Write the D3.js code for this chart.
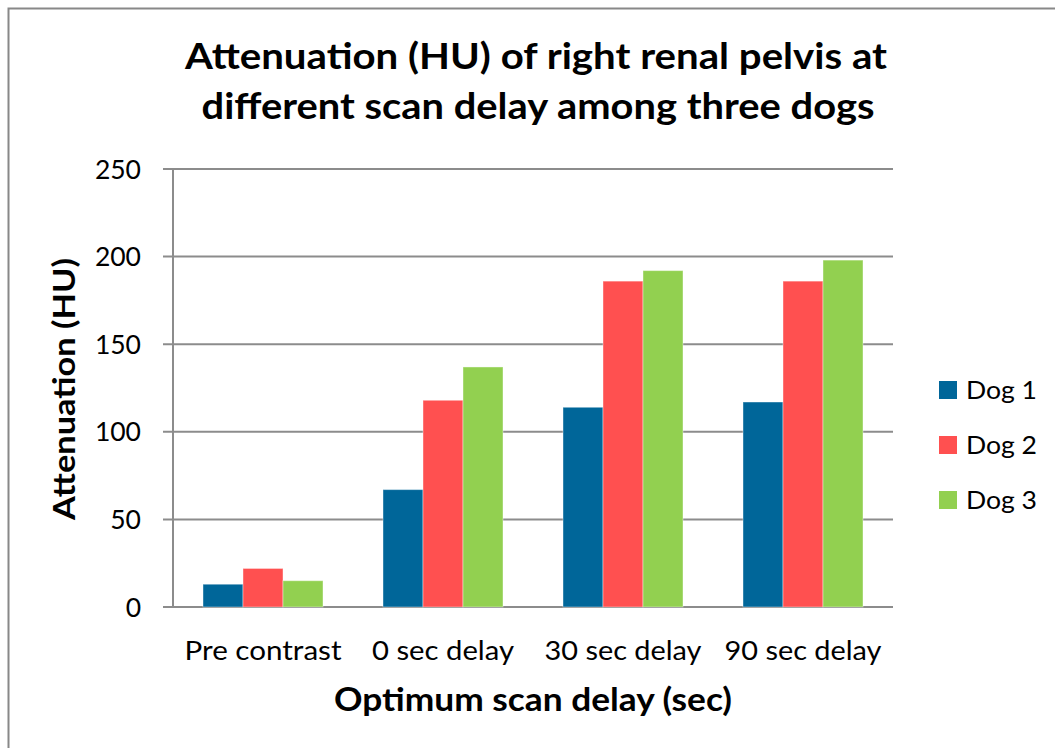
<!DOCTYPE html>
<html>
<head>
<meta charset="utf-8">
<script src="https://cdn.jsdelivr.net/npm/d3@7"></script>
<style>
  body { margin: 0; background: #fff; }
  svg text { font-family: Lato, "Open Sans", sans-serif; fill: #000; }
</style>
</head>
<body>
<div id="chart"></div>
<script>
// chart data
var categories = ["Pre contrast", "0 sec delay", "30 sec delay", "90 sec delay"];
var catWidths = [157, 142, 157, 157];
var seriesNames = ["Dog 1", "Dog 2", "Dog 3"];
var dog1 = [13, 67, 114, 117];
var dog2 = [22, 118, 186, 186];
var dog3 = [15, 137, 192, 198];
var yTicks = [0, 50, 100, 150, 200, 250];
var colors = ["#006699", "#ff5050", "#92d050"];

var W = 1055, H = 748;
var margin = {top: 169, left: 173, right: 162, bottom: 141};
var width = W - margin.left - margin.right,
    height = H - margin.top - margin.bottom;

var svg = d3.select("#chart").append("svg")
    .attr("width", W)
    .attr("height", H);

// outer frame
svg.append("rect")
    .attr("x", 8.5).attr("y", 8.5)
    .attr("width", W).attr("height", H)
    .attr("fill", "none")
    .attr("stroke", "#888")
    .attr("stroke-width", 2);

// title, two lines stretched to the reference widths
var titleLines = [
  {text: "Attenuation (HU) of right renal pelvis at", x: 536, y: 69, w: 702},
  {text: "different scan delay among three dogs", x: 538, y: 119, w: 673}
];
svg.append("g").selectAll("text")
    .data(titleLines)
    .join("text")
    .attr("x", d => d.x)
    .attr("y", d => d.y)
    .attr("text-anchor", "middle")
    .attr("textLength", d => d.w)
    .attr("lengthAdjust", "spacingAndGlyphs")
    .style("font-weight", "bold")
    .style("font-size", "37px")
    .text(d => d.text);

var g = svg.append("g")
    .attr("transform", "translate(" + margin.left + "," + margin.top + ")");

var x0 = d3.scaleBand().domain(categories).range([0, width]);
var x1 = d3.scaleBand().domain(seriesNames)
    .range([x0.bandwidth() / 6, x0.bandwidth() * 5 / 6]);
var y = d3.scaleLinear().domain([0, 250]).range([height, 0]);

// gridlines
g.append("g").selectAll("line")
    .data(yTicks)
    .join("line")
    .attr("x1", -10).attr("x2", width)
    .attr("y1", d => y(d)).attr("y2", d => y(d))
    .attr("stroke", "#8c8c8c")
    .attr("stroke-width", 2);

// y axis line
g.append("line")
    .attr("x1", 0).attr("x2", 0)
    .attr("y1", 0).attr("y2", height)
    .attr("stroke", "#8c8c8c")
    .attr("stroke-width", 2);

var series = [dog1, dog2, dog3];
var groups = g.append("g").selectAll("g")
    .data(categories)
    .join("g")
    .attr("transform", d => "translate(" + x0(d) + ",0)");

groups.selectAll("rect")
    .data((c, i) => seriesNames.map((s, j) => ({name: s, value: series[j][i], color: colors[j]})))
    .join("rect")
    .attr("x", d => x1(d.name))
    .attr("width", x1.bandwidth())
    .attr("y", d => y(d.value))
    .attr("height", d => height - y(d.value))
    .attr("fill", d => d.color)
    .attr("stroke", "#ffffff")
    .attr("stroke-opacity", 0.4)
    .attr("stroke-width", 1);

// y tick labels
g.append("g").selectAll("text")
    .data(yTicks)
    .join("text")
    .attr("x", -32)
    .attr("y", d => y(d))
    .attr("dy", "0.36em")
    .attr("text-anchor", "end")
    .style("font-size", "26.5px")
    .text(d => d);

// x tick labels
g.append("g").selectAll("text")
    .data(categories)
    .join("text")
    .attr("x", d => x0(d) + x0.bandwidth() / 2)
    .attr("y", height + 53)
    .attr("text-anchor", "middle")
    .attr("textLength", (d, i) => catWidths[i])
    .attr("lengthAdjust", "spacingAndGlyphs")
    .style("font-size", "26.5px")
    .text(d => d);

// axis titles
svg.append("text")
    .attr("transform", "translate(75,389) rotate(-90)")
    .attr("text-anchor", "middle")
    .attr("textLength", 262)
    .attr("lengthAdjust", "spacingAndGlyphs")
    .style("font-weight", "bold")
    .style("font-size", "31px")
    .text("Attenuation (HU)");

svg.append("text")
    .attr("x", 533)
    .attr("y", 711)
    .attr("text-anchor", "middle")
    .attr("textLength", 398)
    .attr("lengthAdjust", "spacingAndGlyphs")
    .style("font-weight", "bold")
    .style("font-size", "32px")
    .text("Optimum scan delay (sec)");

// legend
var legend = svg.append("g")
    .attr("transform", "translate(939,390)");
var items = legend.selectAll("g")
    .data(seriesNames)
    .join("g")
    .attr("transform", (d, i) => "translate(0," + i * 55 + ")");
items.append("rect")
    .attr("x", 0).attr("y", -9)
    .attr("width", 18).attr("height", 18)
    .attr("fill", (d, i) => colors[i]);
items.append("text")
    .attr("x", 27)
    .attr("y", 8.5)
    .attr("textLength", 71)
    .attr("lengthAdjust", "spacingAndGlyphs")
    .style("font-size", "24.5px")
    .text(d => d);
</script>
</body>
</html>
